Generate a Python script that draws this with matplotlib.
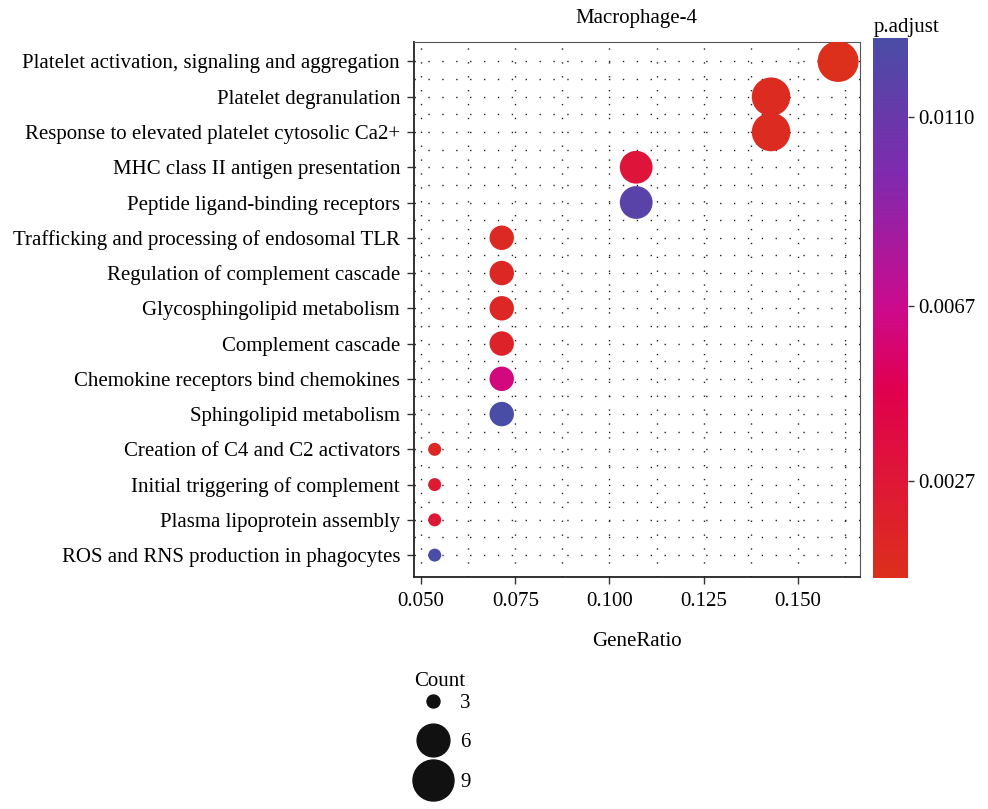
import numpy as np
import matplotlib
matplotlib.use("Agg")
import matplotlib.pyplot as plt
from matplotlib.colors import LinearSegmentedColormap, Normalize
from matplotlib.lines import Line2D

plt.rcParams['font.family'] = ['Liberation Serif', 'DejaVu Serif']
FS = 15

# pathway terms, top to bottom
terms = [
    "Platelet activation, signaling and aggregation",
    "Platelet degranulation",
    "Response to elevated platelet cytosolic Ca2+",
    "MHC class II antigen presentation",
    "Peptide ligand-binding receptors",
    "Trafficking and processing of endosomal TLR",
    "Regulation of complement cascade",
    "Glycosphingolipid metabolism",
    "Complement cascade",
    "Chemokine receptors bind chemokines",
    "Sphingolipid metabolism",
    "Creation of C4 and C2 activators",
    "Initial triggering of complement",
    "Plasma lipoprotein assembly",
    "ROS and RNS production in phagocytes",
]
gene_ratio = [0.1607, 0.1429, 0.1429, 0.1071, 0.1071, 0.0714, 0.0714, 0.0714,
              0.0714, 0.0714, 0.0714, 0.0536, 0.0536, 0.0536, 0.0536]
counts = [9, 8, 8, 6, 6, 4, 4, 4, 4, 4, 4, 3, 3, 3, 3]
p_adjust = [0.0005, 0.0009, 0.0009, 0.0030, 0.0119, 0.0011, 0.0013, 0.0014,
            0.0016, 0.0062, 0.0128, 0.0014, 0.0024, 0.0027, 0.0128]

cbar_ticks = [0.0027, 0.0067, 0.0110]
legend_counts = [3, 6, 9]

# colour gradient red -> crimson -> magenta -> purple -> blue
cmap = LinearSegmentedColormap.from_list(
    "padj", [(0.0, "#DC2F1C"), (0.35, "#E0004F"), (0.5, "#CC0A8D"),
             (0.75, "#7F2AAE"), (1.0, "#4A4DA5")])
norm = Normalize(vmin=min(p_adjust), vmax=max(p_adjust))

# ggplot-like area size scale: diameter in px
d_min, d_max = 13, 41
c_lo, c_hi = min(counts), max(counts)


def diam_px(c):
    return d_min + (d_max - d_min) * np.sqrt((c - c_lo) / (c_hi - c_lo))


def msize(c):
    return (diam_px(c) * 0.72) ** 2


fig = plt.figure(figsize=(9.88, 8.09), dpi=100)
ax = fig.add_axes([0.419, 0.2868, 0.451, 0.6612])

y = np.arange(len(terms))
ax.scatter(gene_ratio, y, s=[msize(c) for c in counts], c=p_adjust,
           cmap=cmap, norm=norm, linewidths=0, zorder=3)

ax.set_xlim(0.0481, 0.1664)
ax.set_ylim(len(terms) - 1 + 0.62, -0.55)
ax.set_yticks(y)
ax.set_yticklabels(terms)
ax.set_xticks([0.050, 0.075, 0.100, 0.125, 0.150])
ax.set_xticklabels(["0.050", "0.075", "0.100", "0.125", "0.150"])
ax.set_xticks(np.arange(0.0625, 0.17, 0.025), minor=True)
ax.set_yticks(y[:-1] + 0.5, minor=True)
ax.tick_params(axis='both', which='major', labelsize=FS, length=5,
               width=1, color='#333333')
ax.tick_params(axis='x', which='major', pad=6)
ax.tick_params(axis='y', which='major', pad=5)
ax.tick_params(axis='both', which='minor', length=0)

grid_style = dict(color='#222222', linestyle=(0, (1, 9)), linewidth=1.0)
ax.grid(True, which='both', **grid_style)
ax.set_axisbelow(True)

for side in ['top', 'right']:
    ax.spines[side].set_color('#555555')
    ax.spines[side].set_linewidth(0.8)
for side in ['left', 'bottom']:
    ax.spines[side].set_color('#222222')
    ax.spines[side].set_linewidth(1.3)

ax.set_xlabel("GeneRatio", fontsize=FS, labelpad=15)
ax.set_title("Macrophage-4", fontsize=FS, pad=14)

# colour bar
cax = fig.add_axes([0.8836, 0.2855, 0.0354, 0.6675])
sm = plt.cm.ScalarMappable(norm=norm, cmap=cmap)
cb = fig.colorbar(sm, cax=cax)
cb.outline.set_visible(False)
cb.set_ticks(cbar_ticks)
cb.set_ticklabels([f"{t:.4f}" for t in cbar_ticks])
cax.tick_params(labelsize=FS, length=4, width=1, color='#333333')
fig.text(0.884, 0.954, "p.adjust", fontsize=FS, ha='left', va='bottom')

# size legend
handles = [Line2D([], [], marker='o', linestyle='', color='#111111',
                  markersize=diam_px(c) * 0.72) for c in legend_counts]
leg = fig.legend(handles, [str(c) for c in legend_counts], title="Count",
                 loc='upper left', bbox_to_anchor=(0.411, 0.18),
                 frameon=False, fontsize=FS, title_fontsize=FS,
                 labelspacing=0.95, handletextpad=0.4, borderaxespad=0,
                 handlelength=1.8)
leg._legend_box.align = "left"
leg._legend_box.sep = 2

fig.savefig("out.png", dpi=100)
